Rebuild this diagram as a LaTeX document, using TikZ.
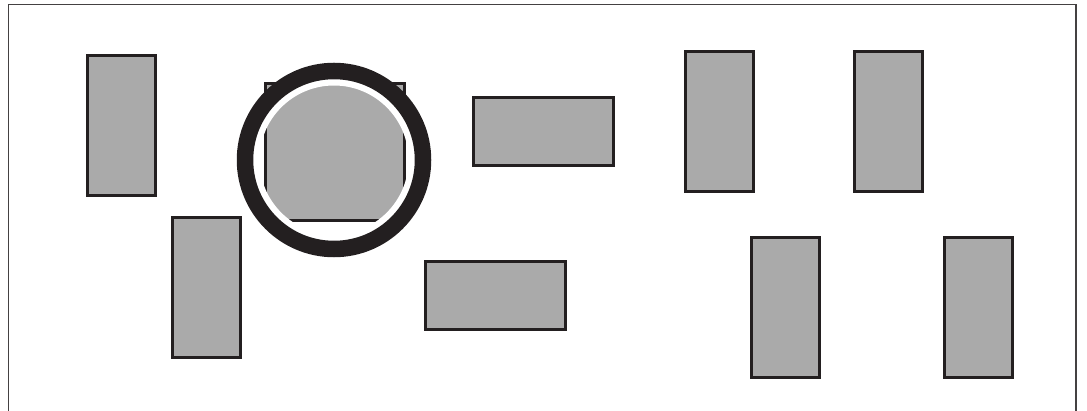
\documentclass[tikz,border=0pt]{standalone}
\usetikzlibrary{positioning}
\definecolor{boxgray}{HTML}{AAAAAA}
\definecolor{inkdark}{HTML}{231F20}
\tikzset{
  block/.style={draw=inkdark,fill=boxgray,line width=3pt,inner sep=0pt,minimum width=#1},
  tall/.style={block=68pt,minimum height=140pt},
  wide/.style={block=140pt,minimum height=68pt}
}
\begin{document}
\begin{tikzpicture}[x=1pt,y=-1pt]
\useasboundingbox (0,0) rectangle (1087,411);
% frame
\draw[inkdark!85,line width=1.5pt] (8.5,411) -- (8.5,4.5) -- (1076,4.5) -- (1076,411);
% blocks
\node[tall] (b1) at (121.5,125.5) {};
\node[tall] (b2) at (206.5,287.5) {};
\node[block=139pt,minimum height=137pt] (sq) at (335,152) {};
\node[wide] (w1) at (543.5,131.5) {};
\node[wide] (w2) at (495.5,295.5) {};
\node[tall] (b3) at (719,121.5) {};
\node[tall] (b4) at (888,121.5) {};
\node[tall] (b5) at (785.5,307.5) {};
\node[tall] (b6) at (978.5,307.5) {};
% marking ring
\coordinate (ring) at (334,160);
\draw[white,line width=9pt] (ring) circle (79);
\draw[inkdark,line width=16.5pt] (ring) circle (89);
\end{tikzpicture}
\end{document}
